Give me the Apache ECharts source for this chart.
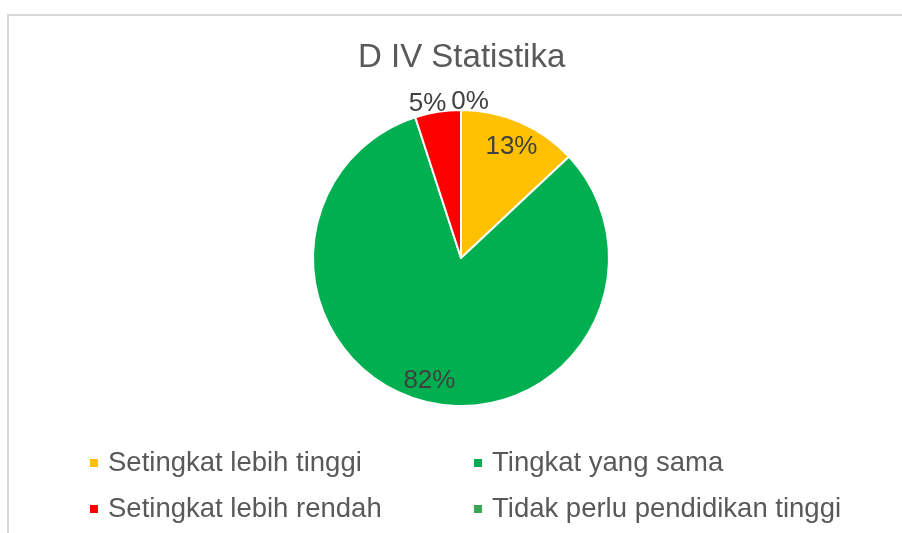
<!DOCTYPE html>
<html>
<head>
<meta charset="utf-8">
<script src="https://cdn.jsdelivr.net/npm/echarts@6/dist/echarts.min.js"></script>
<style>
  html, body { margin: 0; padding: 0; background: #fff; }
  #chart { width: 902px; height: 533px; }
</style>
</head>
<body>
<div id="chart"></div>
<script>
    // data (percent of respondents)
    var categories = ['Setingkat lebih tinggi', 'Tingkat yang sama', 'Setingkat lebih rendah', 'Tidak perlu pendidikan tinggi']
    var values = [13, 82, 5, 0]
    var colors = ['#ffc000', '#00b050', '#ff0000', '#3aa655']

    // small slices get their label outside the pie, nudged apart like Excel does
    var labelShift = [[0, 5], [0, 0], [-9, 0], [9, 0]]
    var isSmall = [false, false, true, true]
    // legend slot for each category: [left, top]
    var legendSlot = [[88, 447], [472, 447], [88, 493], [472, 493]]

    var font = 'Liberation Sans, Arial, sans-serif'
    var cx = 461, cy = 258, r = 148

    function labelSeries(radius, wantSmall) {
        return {
            type: 'pie',
            silent: true,
            center: [cx, cy],
            radius: [0, radius],
            startAngle: 90,
            avoidLabelOverlap: false,
            itemStyle: { color: 'transparent', borderWidth: 0 },
            emphasis: { disabled: true },
            labelLine: { show: false },
            data: categories.map(function (name, i) {
                return {
                    name: name,
                    value: values[i],
                    label: {
                        show: isSmall[i] === wantSmall,
                        position: 'inside',
                        offset: labelShift[i],
                        formatter: function (p) { return Math.round(p.percent) + '%' },
                        color: '#404040',
                        fontFamily: font,
                        fontSize: 26
                    }
                }
            })
        }
    }

    var chart = echarts.init(document.getElementById('chart'))
    chart.setOption({
        animation: false,
        color: colors,
        graphic: [{
            type: 'rect',
            silent: true,
            shape: { x: 8, y: 15, width: 1000, height: 1000 },
            style: { fill: null, stroke: '#d9d9d9', lineWidth: 2 }
        }],
        title: {
            text: 'D IV Statistika',
            left: 358,
            top: 41,
            padding: 0,
            textStyle: { color: '#595959', fontFamily: font, fontSize: 33, fontWeight: 'normal' }
        },
        legend: categories.map(function (name, i) {
            return {
                left: legendSlot[i][0],
                top: legendSlot[i][1],
                padding: 0,
                icon: 'rect',
                itemWidth: 10,
                itemHeight: 10,
                selectedMode: false,
                data: [name],
                textStyle: { color: '#595959', fontFamily: font, fontSize: 27.5, lineHeight: 32, padding: [0, 0, 0, 4] }
            }
        }),
        series: [
            {
                type: 'pie',
                center: [cx, cy],
                radius: [0, r],
                startAngle: 90,
                label: { show: false },
                labelLine: { show: false },
                emphasis: { disabled: true },
                itemStyle: { borderColor: '#fff', borderWidth: 2 },
                data: categories.map(function (name, i) {
                    return { name: name, value: values[i] }
                })
            },
            labelSeries(248, false),
            labelSeries(306, true)
        ]
    })
</script>
</body>
</html>
